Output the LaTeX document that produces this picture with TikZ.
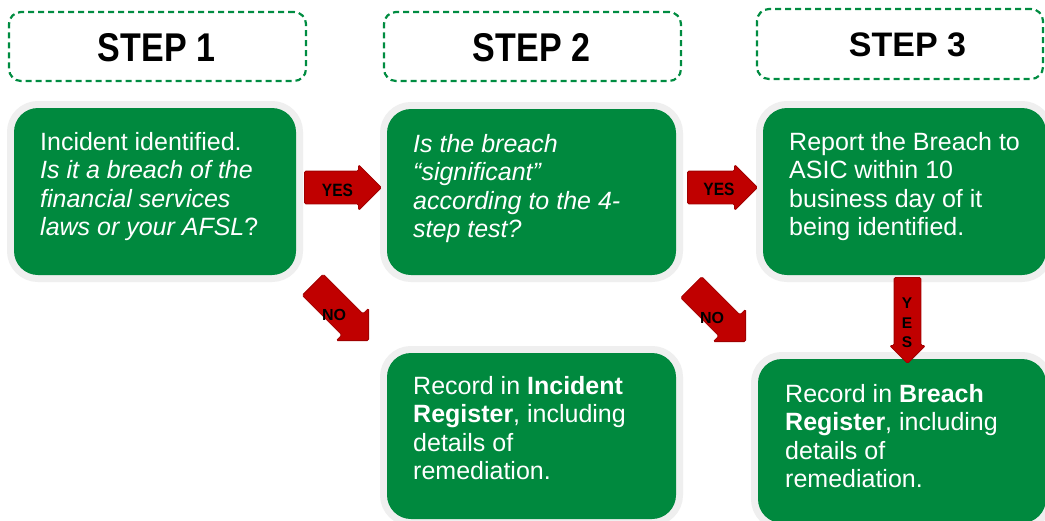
\documentclass[tikz,border=0pt]{standalone}
\usepackage{fontspec}
\setmainfont{Liberation Sans}
\usetikzlibrary{shapes.arrows}
\definecolor{boxgreen}{RGB}{0,137,62}
\definecolor{dashgreen}{RGB}{0,140,65}
\definecolor{halo}{RGB}{239,239,239}
\definecolor{arrred}{RGB}{192,0,0}
\definecolor{arrborder}{RGB}{160,0,0}
\tikzset{
  stepbox/.style={draw=dashgreen, dash pattern=on 6pt off 4pt, line width=2.2pt, rounded corners=12pt, inner sep=0pt},
  steptext/.style={inner sep=0pt, font=\fontsize{34}{40}\selectfont\bfseries},
  gbox/.style={fill=boxgreen, rounded corners=24pt, inner sep=0pt, preaction={draw=halo, line width=14pt}},
  gtext/.style={anchor=base west, inner sep=0pt, text=white},
  blockarrow/.style={single arrow, anchor=tip, fill=arrred, draw=arrborder, line width=0.8pt, inner xsep=0pt, single arrow tip angle=90, rounded corners=1.5pt},
  lbl/.style={font=\bfseries\fontsize{15.5}{16}\selectfont, inner sep=0pt}
}
\newcommand{\boxtext}[1]{\parbox[t]{280pt}{\raggedright\fontsize{25}{28.5}\selectfont #1}}
\begin{document}
\begin{tikzpicture}[x=1pt,y=-1pt]
\clip (0,0) rectangle (1045,520);
\fill[white] (0,0) rectangle (1045,520);

% headers
\node[stepbox, minimum width=297pt, minimum height=69pt] (h1) at (157.5,46.5) {};
\node[steptext] (t1) at (156.5,47.5) {\scalebox{1}[1.18]{STEP 1}};
\node[stepbox, minimum width=297pt, minimum height=69pt] (h2) at (532.5,46.5) {};
\node[steptext] (t2) at (531.5,47.5) {\scalebox{1}[1.18]{STEP 2}};
\node[stepbox, minimum width=286pt, minimum height=70pt] (h3) at (900,44) {};
\node[steptext] (t3) at (907.5,44.5) {STEP 3};

% green boxes
\node[gbox, minimum width=282pt, minimum height=167pt] (b1) at (155,191.5) {};
\node[gbox, minimum width=289pt, minimum height=166pt] (b2) at (531.5,192) {};
\node[gbox, minimum width=283pt, minimum height=167pt] (b3) at (904.5,191.5) {};
\node[gbox, minimum width=289pt, minimum height=166pt] (b4) at (531.5,436) {};
\node[gbox, minimum width=288pt, minimum height=164pt] (b5) at (902,441) {};

\node[gtext] (x1) at (40,150) {\boxtext{Incident identified.\\ \textit{Is it a breach of the}\\ \textit{financial services}\\ \textit{laws or your AFSL}?}};
\node[gtext] (x2) at (413,152) {\boxtext{\itshape Is the breach\\ “significant”\\ according to the 4-\\ step test?}};
\node[gtext] (x3) at (789,150) {\boxtext{Report the Breach to\\ ASIC within 10\\ business day of it\\ being identified.}};
\node[gtext] (x4) at (413,394) {\boxtext{Record in \textbf{Incident}\\ \textbf{Register}, including\\ details of\\ remediation.}};
\node[gtext] (x5) at (785,402) {\boxtext{Record in \textbf{Breach}\\ \textbf{Register}, including\\ details of\\ remediation.}};

% block arrows (placed by their tips)
\node[blockarrow, inner ysep=16pt, minimum height=77pt, single arrow head extend=6.5pt] (a1) at (382,187.5) {};
\node[blockarrow, inner ysep=16pt, minimum height=70pt, single arrow head extend=6.5pt] (a2) at (758,187.5) {};
\node[blockarrow, rotate=-45, inner ysep=14.5pt, minimum height=79pt, single arrow head extend=8pt] (n1) at (369,341) {};
\node[blockarrow, rotate=-45, inner ysep=14.5pt, minimum height=77pt, single arrow head extend=8pt] (n2) at (746,342) {};
\node[blockarrow, rotate=-90, inner ysep=13pt, minimum height=86pt, single arrow head extend=4.5pt] (a3) at (907.5,364) {};

% labels
\node[lbl] (l1) at (337.5,190) {\scalebox{1}[1.15]{YES}};
\node[lbl] (l2) at (719,189) {\scalebox{1}[1.15]{YES}};
\node[lbl, font=\bfseries\fontsize{16}{17}\selectfont] (l3) at (334,315) {NO};
\node[lbl, font=\bfseries\fontsize{16}{17}\selectfont] (l4) at (712,318) {NO};
\node[lbl] (l5) at (907,303) {Y};
\node[lbl] (l6) at (907,323.5) {E};
\node[lbl] (l7) at (907,342.5) {S};
\end{tikzpicture}
\end{document}
